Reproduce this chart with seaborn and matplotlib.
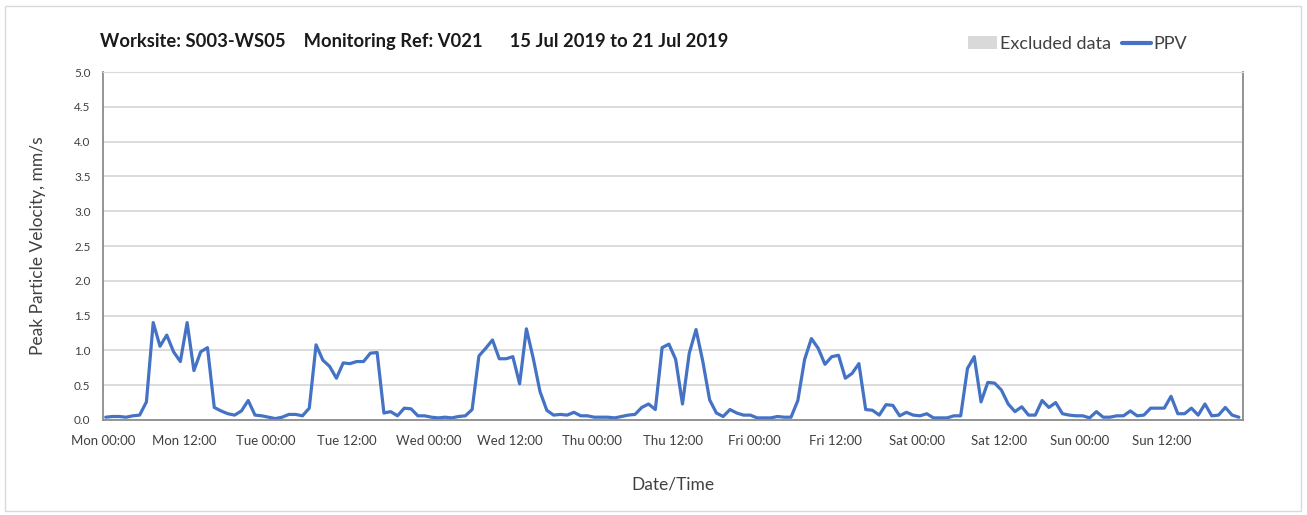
import matplotlib
matplotlib.use("Agg")
import matplotlib.pyplot as plt
import matplotlib.dates as mdates
from matplotlib.patches import Patch, Rectangle
from matplotlib.lines import Line2D
import numpy as np
import pandas as pd
import seaborn as sns

# hourly PPV readings, Mon 15 Jul 2019 -> Sun 21 Jul 2019 (mm/s)
start = "2019-07-15 00:24"
ppv = [
    # Mon
    0.04, 0.05, 0.05, 0.04, 0.06, 0.07, 0.26, 1.40, 1.06, 1.22, 0.98, 0.84,
    1.40, 0.71, 0.98, 1.04, 0.18, 0.13, 0.09, 0.07, 0.13, 0.28, 0.07, 0.06,
    # Tue
    0.04, 0.02, 0.04, 0.08, 0.08, 0.06, 0.17, 1.08, 0.86, 0.77, 0.60, 0.82,
    0.81, 0.84, 0.84, 0.96, 0.97, 0.10, 0.12, 0.06, 0.17, 0.16, 0.06, 0.06,
    # Wed
    0.04, 0.03, 0.04, 0.03, 0.05, 0.06, 0.15, 0.92, 1.03, 1.15, 0.88, 0.88,
    0.91, 0.52, 1.31, 0.89, 0.41, 0.14, 0.07, 0.08, 0.07, 0.11, 0.06, 0.06,
    # Thu
    0.04, 0.04, 0.04, 0.03, 0.05, 0.07, 0.08, 0.18, 0.23, 0.15, 1.04, 1.09,
    0.87, 0.23, 0.96, 1.30, 0.84, 0.29, 0.10, 0.05, 0.15, 0.10, 0.07, 0.07,
    # Fri
    0.03, 0.03, 0.03, 0.05, 0.04, 0.04, 0.28, 0.87, 1.17, 1.03, 0.80, 0.91,
    0.93, 0.60, 0.67, 0.81, 0.15, 0.14, 0.07, 0.22, 0.21, 0.06, 0.11, 0.07,
    # Sat
    0.06, 0.09, 0.03, 0.03, 0.03, 0.06, 0.06, 0.74, 0.91, 0.26, 0.54, 0.53,
    0.43, 0.23, 0.12, 0.19, 0.07, 0.07, 0.28, 0.18, 0.25, 0.09, 0.07, 0.06,
    # Sun
    0.06, 0.03, 0.12, 0.04, 0.04, 0.06, 0.06, 0.13, 0.06, 0.07, 0.17, 0.17,
    0.17, 0.34, 0.09, 0.09, 0.17, 0.07, 0.23, 0.06, 0.07, 0.18, 0.07, 0.04,
]
times = pd.date_range(start, periods=len(ppv), freq="h")
df = pd.DataFrame({"time": times, "ppv": ppv})

tick_times = pd.date_range("2019-07-15 00:00", "2019-07-21 12:00", freq="12h")
y_ticks = np.arange(0, 5.01, 0.5)

title = "Worksite: S003-WS05    Monitoring Ref: V021      15 Jul 2019 to 21 Jul 2019"

sns.set_style("white")
plt.rcParams["font.family"] = ["Lato", "DejaVu Sans"]

blue = "#4472C4"
grid_c = "#d9d9d9"
axis_c = "#8c8c8c"

fig = plt.figure(figsize=(13.07, 5.15), dpi=100)
ax = fig.add_axes([0.0788, 0.1845, 0.8722, 0.6755])

sns.lineplot(data=df, x="time", y="ppv", ax=ax, color=blue, linewidth=2.3, legend=False)

ax.set_xlim(pd.Timestamp("2019-07-15 00:00"), pd.Timestamp("2019-07-22 00:00"))
ax.set_ylim(0, 5.0)
ax.set_yticks(y_ticks)
ax.set_yticklabels([f"{v:.1f}" for v in y_ticks])

ax.set_xticks(mdates.date2num(tick_times))
ax.set_xticklabels([d.strftime("%a %H:%M") for d in tick_times])
ax.xaxis.set_minor_locator(mdates.DayLocator())

ax.grid(axis="y", color=grid_c, linewidth=1.3)
ax.grid(axis="x", which="minor", color=grid_c, linewidth=1.3)
ax.grid(axis="x", which="major", visible=False)
ax.set_axisbelow(True)

for s in ["left", "bottom", "right"]:
    ax.spines[s].set_color(axis_c)
    ax.spines[s].set_linewidth(1.3)
ax.spines["top"].set_color(grid_c)

ax.tick_params(axis="x", which="major", direction="out", length=5, color=axis_c,
               labelsize=9.5, labelcolor="#404040", pad=6)
ax.tick_params(axis="x", which="minor", length=0)
ax.tick_params(axis="y", direction="out", length=5, color=axis_c,
               labelsize=8.5, labelcolor="#404040", pad=4)

ax.set_xlabel("Date/Time", fontsize=12.5, color="#404040", labelpad=21)
ax.set_ylabel("Peak Particle Velocity, mm/s", fontsize=12.5, color="#404040", labelpad=20)

fig.text(100 / 1307, 1 - 41 / 515, title, fontsize=13.2, fontweight="bold",
         color="#1a1a1a", va="center", ha="left")

handles = [Patch(facecolor=grid_c, edgecolor="none", label="Excluded data"),
           Line2D([0], [0], color=blue, linewidth=3, label="PPV")]
fig.legend(handles=handles, loc="center right", bbox_to_anchor=(1187 / 1307, 1 - 44 / 515),
           ncol=2, frameon=False, fontsize=13, handlelength=1.6, handletextpad=0.15,
           columnspacing=0.6, labelcolor="#404040", borderpad=0, borderaxespad=0)

fig.patches.append(Rectangle((5 / 1307, 4 / 515), 1296 / 1307, 505 / 515, transform=fig.transFigure,
                             fill=False, edgecolor="#d9d9d9", linewidth=1))

fig.savefig("out.png", dpi=100)
